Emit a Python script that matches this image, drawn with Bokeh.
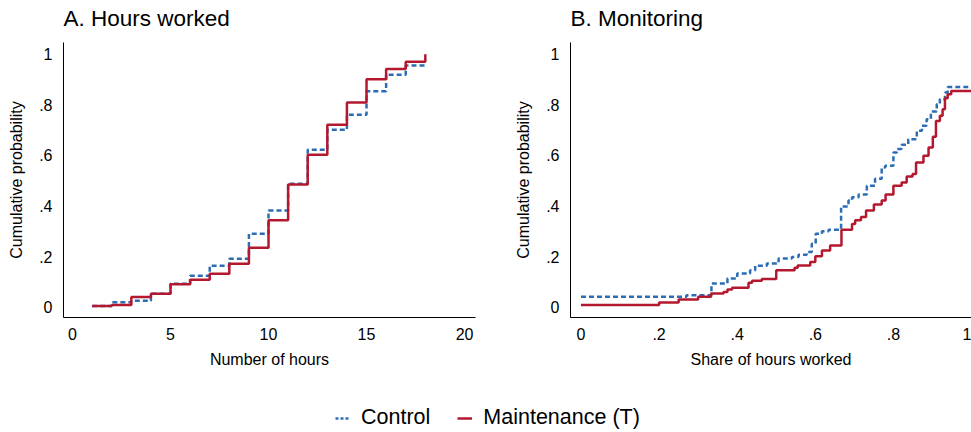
from bokeh.plotting import figure
from bokeh.models import FixedTicker, Legend, LegendItem, Range1d, Label
from bokeh.layouts import column, row
from bokeh.embed import file_html
from bokeh.resources import INLINE

FONT = "Liberation Sans"
BLUE = "#2C6DB4"
RED = "#B4182E"

# ---- Panel A: hours worked (empirical CDF) ----
hours = [1, 2, 3, 4, 5, 6, 7, 8, 9, 10, 11, 12, 13, 14, 15, 16, 17, 18]
hours_control = [0.004, 0.019, 0.025, 0.053, 0.092, 0.124, 0.164, 0.191, 0.290,
                 0.382, 0.488, 0.622, 0.701, 0.760, 0.853, 0.919, 0.955, 0.955]
hours_maint = [0.004, 0.008, 0.040, 0.053, 0.090, 0.108, 0.132, 0.171, 0.235,
               0.343, 0.485, 0.602, 0.721, 0.809, 0.901, 0.941, 0.970, 1.000]

# ---- Panel B: monitoring (share of hours worked) ----
share_control_x = [0.0, 0.27, 0.334, 0.375, 0.4, 0.433, 0.446, 0.476, 0.506, 0.54,
                   0.557, 0.578, 0.591, 0.601, 0.617, 0.634, 0.666, 0.685, 0.694,
                   0.711, 0.732, 0.753, 0.77, 0.779, 0.8, 0.809, 0.821, 0.838,
                   0.86, 0.873, 0.885, 0.896, 0.911, 0.919, 0.932, 0.939, 1.0]
share_control_y = [0.041, 0.047, 0.093, 0.113, 0.133, 0.146, 0.164, 0.172, 0.192, 0.198,
                   0.207, 0.218, 0.251, 0.290, 0.300, 0.306, 0.398, 0.421, 0.434,
                   0.445, 0.480, 0.507, 0.552, 0.559, 0.611, 0.625, 0.642, 0.664,
                   0.697, 0.717, 0.743, 0.773, 0.802, 0.822, 0.848, 0.870, 0.870]
share_maint_x = [0.0, 0.2, 0.25, 0.3, 0.333, 0.365, 0.375, 0.387, 0.429, 0.438,
                 0.463, 0.5, 0.547, 0.555, 0.587, 0.6, 0.617, 0.638, 0.667, 0.694,
                 0.702, 0.717, 0.73, 0.75, 0.77, 0.78, 0.8, 0.821, 0.834, 0.849,
                 0.858, 0.877, 0.89, 0.901, 0.909, 0.919, 0.926, 0.932, 0.939, 0.948, 1.0]
share_maint_y = [0.008, 0.018, 0.030, 0.041, 0.054, 0.060, 0.070, 0.077, 0.096, 0.104,
                 0.111, 0.146, 0.156, 0.165, 0.178, 0.201, 0.224, 0.244, 0.306, 0.329,
                 0.343, 0.356, 0.382, 0.406, 0.421, 0.445, 0.480, 0.493, 0.516, 0.526,
                 0.572, 0.598, 0.631, 0.673, 0.736, 0.756, 0.782, 0.826, 0.841, 0.854, 0.854]

prob_ticks = [0, 0.2, 0.4, 0.6, 0.8, 1]
prob_labels = ["0", ".2", ".4", ".6", ".8", "1"]
hour_ticks = [0, 5, 10, 15, 20]
hour_labels = ["0", "5", "10", "15", "20"]
series_names = ["Control", "Maintenance (T)"]
panel_titles = ["A. Hours worked", "B. Monitoring"]


def blank_fig(width, height, y_range=None):
    f = figure(width=width, height=height, output_backend="svg",
               toolbar_location=None, x_axis_type=None, y_axis_type=None,
               min_border=0, x_range=Range1d(0, 1),
               y_range=y_range if y_range is not None else Range1d(0, 1))
    f.grid.visible = False
    f.outline_line_color = None
    return f


def make_title(text, width, left):
    t = blank_fig(width, 42)
    t.add_layout(Label(x=left, y=24, x_units="screen", y_units="screen",
                       text=text, text_font=FONT, text_font_size="22.5px",
                       text_color="black", text_baseline="alphabetic",
                       text_align="left"))
    return t


def make_panel(xlabel, x_range, width, bl, br, xticks, xlabels):
    p = figure(width=width, height=328, x_range=x_range,
               y_range=Range1d(-0.041, 1.046),
               output_backend="svg", toolbar_location=None,
               min_border_left=bl, min_border_right=br,
               min_border_top=0, min_border_bottom=53)
    p.grid.visible = False
    p.outline_line_color = None
    p.background_fill_color = "white"
    p.border_fill_color = "white"
    for ax in (p.xaxis[0], p.yaxis[0]):
        ax.axis_line_color = "black"
        ax.axis_line_width = 1
        ax.major_tick_in = 0
        ax.major_tick_out = 0
        ax.minor_tick_in = 0
        ax.minor_tick_out = 0
        ax.major_label_text_font = FONT
        ax.major_label_text_font_size = "16px"
        ax.major_label_text_color = "black"
        ax.axis_label_text_font = FONT
        ax.axis_label_text_font_size = "16px"
        ax.axis_label_text_font_style = "normal"
        ax.axis_label_text_color = "black"
    p.xaxis.ticker = FixedTicker(ticks=xticks)
    p.xaxis.major_label_overrides = dict(zip(xticks, xlabels))
    p.yaxis.ticker = FixedTicker(ticks=prob_ticks)
    p.yaxis.major_label_overrides = dict(zip(prob_ticks, prob_labels))
    p.yaxis.major_label_orientation = "horizontal"
    p.xaxis.axis_label = xlabel
    p.yaxis.axis_label = "Cumulative probability"
    p.xaxis.major_label_standoff = 10
    p.xaxis.axis_label_standoff = 8
    p.yaxis.major_label_standoff = 11
    p.yaxis.axis_label_standoff = 11
    return p


tA = make_title(panel_titles[0], 505, 63)
tB = make_title(panel_titles[1], 466, 65)

pA = make_panel("Number of hours", Range1d(-0.46, 20.56),
                505, 63, 30, hour_ticks, hour_labels)
pA.step(hours, hours_control, mode="after", line_color=BLUE, line_width=2.5,
        line_dash="5 3")
pA.step(hours, hours_maint, mode="after", line_color=RED, line_width=2.5)

pB = make_panel("Share of hours worked", Range1d(-0.0269, 1.0),
                466, 65, 0, prob_ticks, prob_labels)
pB.step(share_control_x, share_control_y, mode="after", line_color=BLUE,
        line_width=2.5, line_dash="5 3")
pB.step(share_maint_x, share_maint_y, mode="after", line_color=RED, line_width=2.5)

# ---- shared legend (series drawn off-range so only legend swatches show) ----
pL = blank_fig(971, 62, y_range=Range1d(5, 6))
rc = pL.line(x=hours, y=hours_control, line_color=BLUE, line_width=2.5,
             line_dash="3 2")
rm = pL.line(x=hours, y=hours_maint, line_color=RED, line_width=2.5)
leg = Legend(items=[LegendItem(label=series_names[0], renderers=[rc]),
                    LegendItem(label=series_names[1], renderers=[rm])],
             orientation="horizontal", location=(335, 2),
             glyph_width=15, label_standoff=11, spacing=27,
             label_text_font=FONT, label_text_font_size="21.5px",
             label_text_color="black", padding=0, margin=0,
             border_line_color=None, background_fill_alpha=0)
pL.add_layout(leg, "center")

layout = column(row(tA, tB, spacing=0), row(pA, pB, spacing=0), pL, spacing=0)
open("out.html", "w").write(file_html(layout, INLINE))
